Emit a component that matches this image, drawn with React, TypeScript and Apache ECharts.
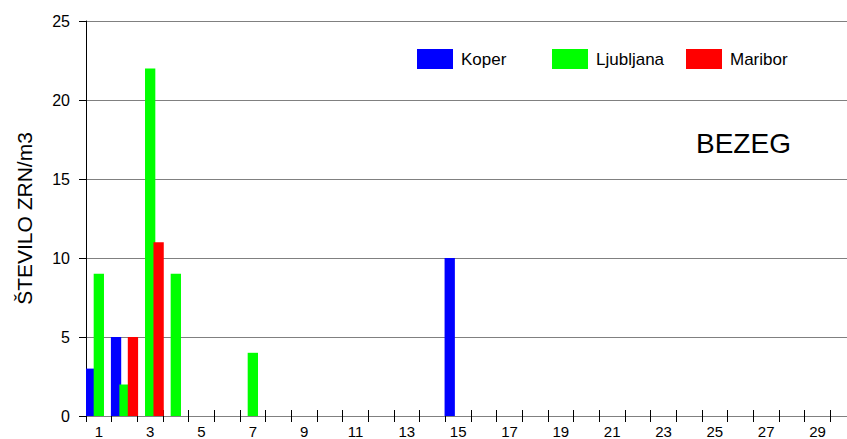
import React, { useEffect, useRef } from "react";
import * as echarts from "echarts";

const days = ["1","2","3","4","5","6","7","8","9","10","11","12","13","14","15","16","17","18","19","20","21","22","23","24","25","26","27","28","29","30"];
const koper = [3,5,0,0,0,0,0,0,0,0,0,0,0,0,10,0,0,0,0,0,0,0,0,0,0,0,0,0,0,0];
const ljubljana = [9,2,22,9,0,0,4,0,0,0,0,0,0,0,0,0,0,0,0,0,0,0,0,0,0,0,0,0,0,0];
const maribor = [0,5,11,0,0,0,0,0,0,0,0,0,0,0,0,0,0,0,0,0,0,0,0,0,0,0,0,0,0,0];
const seriesNames = ["Koper", "Ljubljana", "Maribor"];
const seriesColors = ["#0000FF", "#00FF00", "#FF0000"];
const yTitle = "ŠTEVILO ZRN/m3";
const chartLabel = "BEZEG";

const FONT = "'Liberation Sans', Arial, sans-serif";

export default function App() {
  const ref = useRef<HTMLDivElement>(null);
  useEffect(() => {
    if (!ref.current) return;
    const chart = echarts.init(ref.current, undefined, { renderer: "svg" });
    const values = [koper, ljubljana, maribor];
    const legendLefts = [417, 552, 686];
    chart.setOption({
      animation: false,
      backgroundColor: "#ffffff",
      textStyle: { fontFamily: FONT },
      grid: {
        left: 86,
        top: 21,
        width: 770,
        bottom: 23,
        containLabel: false,
        outerBoundsMode: "none",
      },
      legend: seriesNames.map((n, i) => ({
        data: [n],
        left: legendLefts[i],
        top: 49,
        padding: 0,
        itemWidth: 36,
        itemHeight: 20,
        icon: "rect",
        textStyle: { fontSize: 17, color: "#000", fontFamily: FONT, padding: [0, 0, 0, 3] },
      })),
      xAxis: [
        {
          type: "category",
          data: days,
          position: "bottom",
          axisLine: { lineStyle: { color: "#808080", width: 1 } },
          axisTick: { show: true, interval: 0, length: 6, lineStyle: { color: "#000" } },
          axisLabel: { interval: 1, fontSize: 15, color: "#000", margin: 8, fontFamily: FONT },
          splitLine: { show: false },
        },
        {
          type: "category",
          data: days,
          position: "bottom",
          axisLine: { show: false },
          axisTick: { show: true, inside: true, interval: 0, length: 6, lineStyle: { color: "#000" } },
          axisLabel: { show: false },
          splitLine: { show: false },
        },
      ],
      yAxis: {
        type: "value",
        min: 0,
        max: 25,
        interval: 5,
        name: yTitle,
        nameLocation: "middle",
        nameRotate: 90,
        nameGap: 51,
        nameTextStyle: { fontSize: 21, color: "#000", fontFamily: FONT },
        axisLine: { show: true, lineStyle: { color: "#000", width: 1 } },
        axisTick: { show: true, length: 7, lineStyle: { color: "#000" } },
        axisLabel: { fontSize: 16, color: "#000", margin: 16, fontFamily: FONT },
        splitLine: { show: true, lineStyle: { color: "#808080", width: 1 } },
      },
      graphic: [
        {
          type: "text",
          left: 696,
          top: 129,
          style: { text: chartLabel, fontSize: 28, fill: "#000", fontFamily: FONT },
        },
      ],
      series: seriesNames.map((n, i) => ({
        name: n,
        type: "bar",
        xAxisIndex: 0,
        data: values[i],
        barWidth: 10.3,
        barGap: "-18%",
        itemStyle: { color: seriesColors[i] },
        clip: true,
      })),
    });
    return () => chart.dispose();
  }, []);
  return (
    <div
      ref={ref}
      style={{ position: "fixed", left: 0, top: 0, width: 847, height: 439, background: "#fff" }}
    />
  );
}
